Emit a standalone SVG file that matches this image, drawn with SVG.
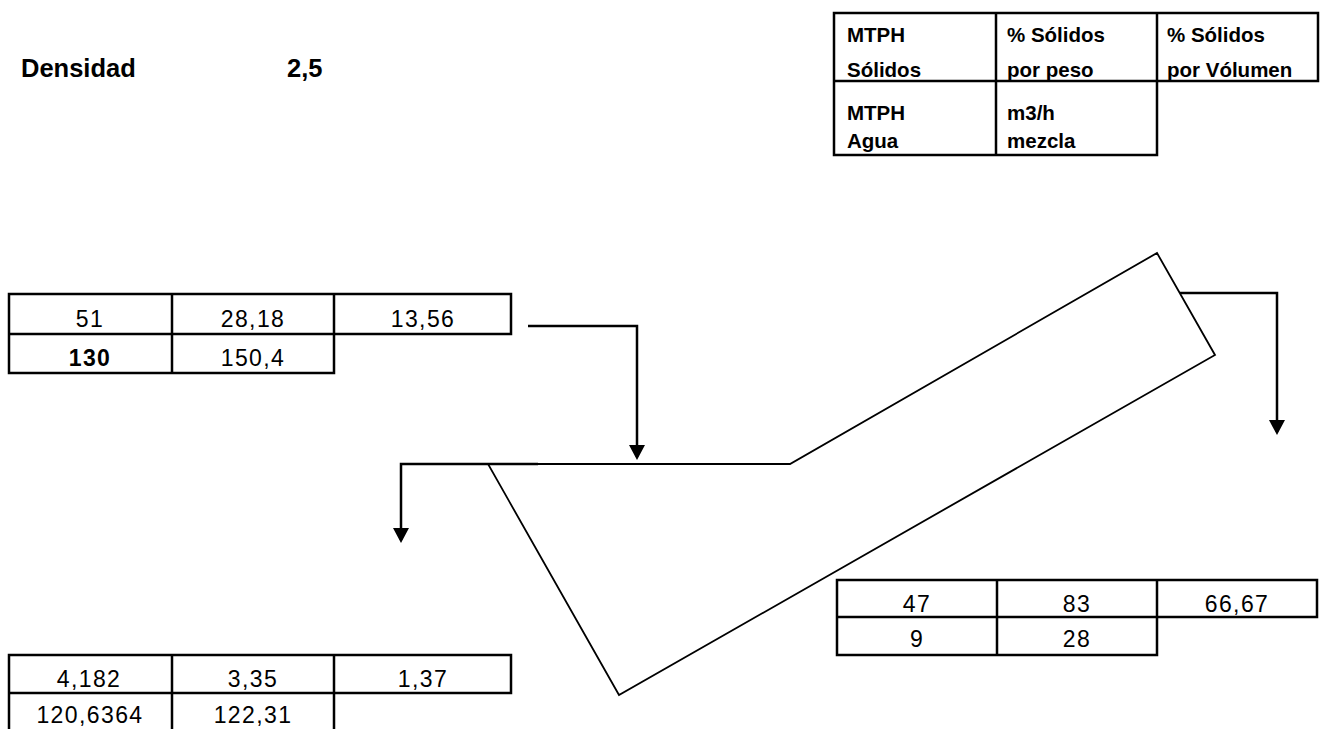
<svg xmlns="http://www.w3.org/2000/svg" width="1326" height="729" viewBox="0 0 1326 729">
<style>
.grid{fill:none;stroke:#000;stroke-width:2.5;stroke-linecap:square}
.lg{font-family:"Liberation Sans",Arial,sans-serif;font-weight:bold;font-size:20.5px;fill:#000}
.hd{font-family:"Liberation Sans",Arial,sans-serif;font-weight:bold;font-size:25.5px;fill:#000}
.num{font-family:"Liberation Sans",Arial,sans-serif;font-size:23px;letter-spacing:1.4px;fill:#000;text-anchor:middle}
.b{font-weight:bold}
.con{fill:none;stroke:#000;stroke-width:2.5}
.shape{fill:none;stroke:#000;stroke-width:1.8;stroke-linejoin:miter}
</style>
<defs>
<marker id="arr" viewBox="0 0 15 16" refX="12" refY="8" markerWidth="15" markerHeight="16" markerUnits="userSpaceOnUse" orient="auto">
<path d="M0,0 L15,8 L0,16 z" fill="#000"/>
</marker>
</defs>
<rect width="1326" height="729" fill="#fff"/>

<g id="densidad">
<text class="hd" x="21" y="77">Densidad</text>
<text class="hd" x="287" y="77">2,5</text>
</g>

<g id="legend">
<path class="grid" stroke-width="3" d="M834,13 H1318 V81 H834 Z M834,81 V155 H1157 V81 M996,13 V155 M1157,13 V81"/>
<text class="lg" x="847" y="42">MTPH</text>
<text class="lg" x="847" y="77">Sólidos</text>
<text class="lg" x="1007" y="42">% Sólidos</text>
<text class="lg" x="1007" y="77">por peso</text>
<text class="lg" x="1167" y="42">% Sólidos</text>
<text class="lg" x="1167" y="77">por Vólumen</text>
<text class="lg" x="847" y="120">MTPH</text>
<text class="lg" x="847" y="148">Agua</text>
<text class="lg" x="1007" y="120">m3/h</text>
<text class="lg" x="1007" y="148">mezcla</text>
</g>

<g id="feed-table">
<path class="grid" d="M9,294 H511 V334 H9 Z M9,334 V373 H334 V334 M172,294 V373 M334,294 V334"/>
<text class="num" x="90" y="327">51</text>
<text class="num" x="253" y="327">28,18</text>
<text class="num" x="423" y="327">13,56</text>
<text class="num b" x="90" y="366">130</text>
<text class="num" x="253" y="366">150,4</text>
</g>

<g id="overflow-table">
<path class="grid" d="M9,655 H511 V693 H9 Z M9,693 V735 M172,655 V735 M334,655 V735"/>
<text class="num" x="89" y="687">4,182</text>
<text class="num" x="253" y="687">3,35</text>
<text class="num" x="423" y="687">1,37</text>
<text class="num" x="90" y="723">120,6364</text>
<text class="num" x="253" y="723">122,31</text>
</g>

<g id="underflow-table">
<path class="grid" stroke-width="2.2" d="M837,580 H1317 V617 H837 Z M837,617 V655 H1157 V617 M997,580 V655 M1157,580 V617"/>
<text class="num" x="917" y="612">47</text>
<text class="num" x="1077" y="612">83</text>
<text class="num" x="1237" y="612">66,67</text>
<text class="num" x="917" y="647">9</text>
<text class="num" x="1077" y="647">28</text>
</g>

<g id="classifier">
<path class="shape" d="M488,464 L790,464 L1157,253 L1215,355 L619,695 Z"/>
</g>

<g id="connectors">
<path class="con" d="M528,326 H637 V457" marker-end="url(#arr)"/>
<path class="con" d="M538,464 H401 V540" marker-end="url(#arr)"/>
<path class="con" d="M1180,293 H1277 V432" marker-end="url(#arr)"/>
</g>
</svg>
